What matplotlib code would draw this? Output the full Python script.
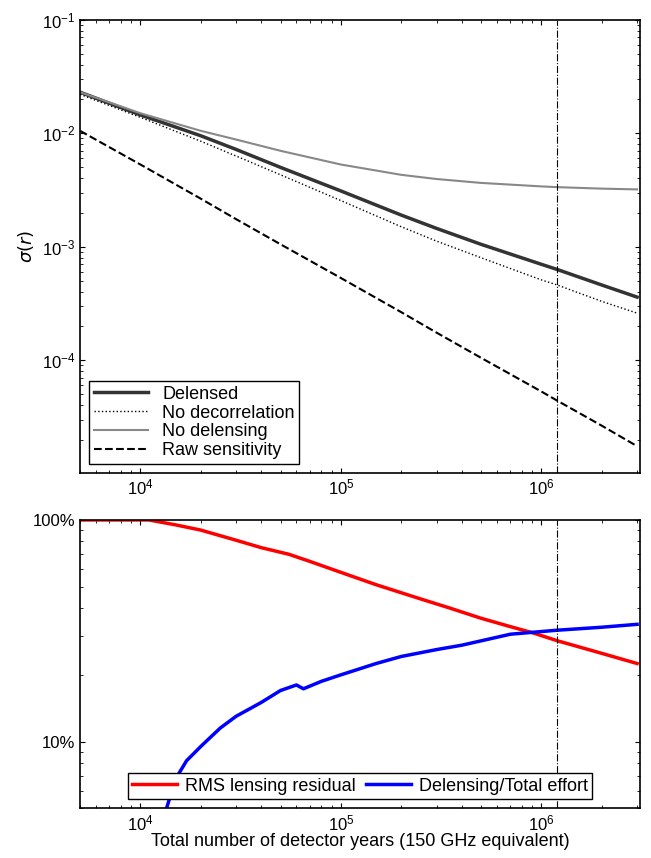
import numpy as np
import matplotlib.pyplot as plt
from matplotlib.ticker import FixedLocator, NullFormatter

plt.rcParams["font.family"] = ["Liberation Sans", "DejaVu Sans"]
plt.rcParams["font.size"] = 12

# top panel
n_top = [5e3, 1e4, 2e4, 3e4, 5e4, 1e5, 2e5, 3e5, 5e5, 1e6, 1.2e6, 2e6, 3e6]
delensed = [2.3e-2, 1.45e-2, 9.5e-3, 7.2e-3, 5.0e-3, 3.1e-3, 1.9e-3, 1.45e-3, 1.05e-3, 7.0e-4, 6.3e-4, 4.6e-4, 3.6e-4]
no_decorr = [2.2e-2, 1.38e-2, 8.5e-3, 6.3e-3, 4.3e-3, 2.55e-3, 1.5e-3, 1.12e-3, 8.0e-4, 5.1e-4, 4.6e-4, 3.3e-4, 2.6e-4]
no_delens = [2.3e-2, 1.5e-2, 1.05e-2, 8.8e-3, 7.0e-3, 5.3e-3, 4.3e-3, 3.95e-3, 3.65e-3, 3.4e-3, 3.35e-3, 3.25e-3, 3.2e-3]
raw = [1.05e-2, 5.3e-3, 2.65e-3, 1.75e-3, 1.05e-3, 5.3e-4, 2.65e-4, 1.75e-4, 1.05e-4, 5.3e-5, 4.4e-5, 2.65e-5, 1.75e-5]

# bottom panel
n_res = [5e3, 1.1e4, 1.5e4, 2e4, 3e4, 4e4, 5.5e4, 7e4, 1e5, 1.5e5, 2.5e5, 3.5e5, 5e5, 7e5, 9e5, 1.2e6, 2e6, 3e6]
rms_res = [100, 100, 95, 90, 81, 75, 70, 65, 58, 51, 44, 40, 36, 33, 31, 28.5, 25, 22.5]
n_eff = [1.35e4, 1.5e4, 1.7e4, 2e4, 2.5e4, 3e4, 4e4, 5e4, 6e4, 6.5e4, 8e4, 1e5, 1.5e5, 2e5, 3e5, 4e5, 7e5, 1.2e6, 2e6, 3e6]
effort = [5, 6.8, 8.2, 9.5, 11.5, 13, 15, 17, 18, 17.3, 18.7, 20, 22.5, 24.2, 26, 27.2, 30.5, 31.8, 32.8, 33.8]

v_line = 1.2e6

fig = plt.figure(figsize=(6.51, 8.58), dpi=100)
ax1 = fig.add_axes([0.123, 0.449, 0.860, 0.528])
ax2 = fig.add_axes([0.123, 0.058, 0.860, 0.336])

ax1.loglog(n_top, delensed, color="#333333", lw=2.5, label="Delensed")
ax1.loglog(n_top, no_decorr, color="k", lw=1, ls=":", label="No decorrelation")
ax1.loglog(n_top, no_delens, color="#888888", lw=1.5, label="No delensing")
ax1.loglog(n_top, raw, color="k", lw=1.5, ls="--", label="Raw sensitivity")
ax1.axvline(v_line, color="k", lw=0.8, ls="-.")
ax1.set_xlim(5e3, 3.1e6)
ax1.set_ylim(1.02e-5, 1e-1)
ax1.set_ylabel(r"$\sigma(r)$", fontsize=13)
leg1 = ax1.legend(loc="lower left", fontsize=13, handlelength=3, borderpad=0.25, labelspacing=0.1,
                  fancybox=False, edgecolor="k", framealpha=1)
leg1.get_frame().set_linewidth(1)

ax2.semilogx(n_res, rms_res, color="red", lw=2.5, label="RMS lensing residual")
ax2.semilogx(n_eff, effort, color="blue", lw=2.5, label="Delensing/Total effort")
ax2.axvline(v_line, color="k", lw=0.8, ls="-.")
ax2.set_yscale("log")
ax2.set_xlim(5e3, 3.1e6)
ax2.set_ylim(5, 100)
ax2.yaxis.set_major_locator(FixedLocator([10, 100]))
ax2.set_yticklabels(["10%", "100%"])
ax2.yaxis.set_minor_formatter(NullFormatter())
ax2.set_xlabel("Total number of detector years (150 GHz equivalent)", fontsize=13, labelpad=0)
leg2 = ax2.legend(loc="lower center", ncol=2, fontsize=13, handlelength=2.5, columnspacing=0.6,
                  borderpad=0.25, handletextpad=0.4, fancybox=False, edgecolor="k", framealpha=1,
                  bbox_to_anchor=(0.5, 0.0))
leg2.get_frame().set_linewidth(1)

for ax in (ax1, ax2):
    ax.tick_params(which="both", direction="in", top=True, right=True)
    for s in ax.spines.values():
        s.set_linewidth(1.2)

fig.savefig("out.png")
